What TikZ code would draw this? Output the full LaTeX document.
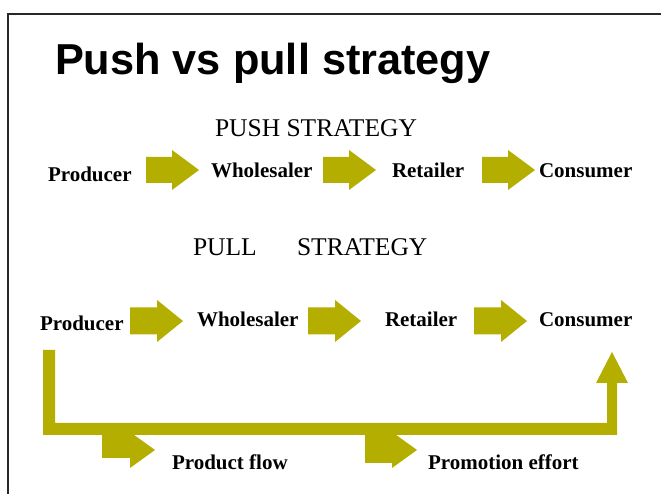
\documentclass[tikz,border=0pt]{standalone}
\usepackage{fontspec}
\setmainfont{Liberation Serif}
\newfontfamily\headfont{Liberation Sans}

\begin{document}
\begin{tikzpicture}[x=1pt,y=1pt,
  stage/.style={text=drawColor,anchor=base west,inner sep=0pt,outer sep=0pt,
    font=\bfseries\fontsize{21}{21}\selectfont},
  heading/.style={text=drawColor,anchor=base west,inner sep=0pt,outer sep=0pt,
    font=\fontsize{25.5}{25.5}\selectfont}]
\definecolor{fillColor}{RGB}{255,255,255}
\definecolor{drawColor}{RGB}{0,0,0}
\definecolor{frameColor}{RGB}{40,40,40}
\definecolor{arrowColor}{RGB}{179,174,0}
\path[use as bounding box,fill=fillColor] (0,0) rectangle (661,494);

% slide frame, left and top edge
\path[draw=frameColor,line width= 1.5pt] (  8.00,  0.00) --
	(  8.00,480.00) --
	(661.00,480.00);

\node[text=drawColor,anchor=base west,inner sep=0pt,outer sep=0pt,
  font=\headfont\bfseries\fontsize{43.3}{43.3}\selectfont] (title) at ( 55.00,419.00) {Push vs pull strategy};

% push strategy
\node[heading] (pushHead) at (215.00,357.00) {PUSH STRATEGY};

\node[stage] (pushProd) at ( 48.00,312.00) {Producer};
\node[stage] (pushWhole) at (211.00,316.00) {Wholesaler};
\node[stage] (pushRet) at (392.00,316.00) {Retailer};
\node[stage] (pushCons) at (539.00,316.00) {Consumer};

\foreach \x in {146,323,482}
  \path[fill=arrowColor] (\x,311) -- (\x+26,311) -- (\x+26,304) --
	(\x+53,324) -- (\x+26,344) -- (\x+26,337) -- (\x,337) -- cycle;

% pull strategy
\node[heading] (pullHead) at (193.00,238.00) {PULL};
\node[heading] (pullHeadB) at (297.00,238.00) {STRATEGY};

\node[stage] (pullProd) at ( 40.00,163.00) {Producer};
\node[stage] (pullWhole) at (197.00,167.00) {Wholesaler};
\node[stage] (pullRet) at (385.00,167.00) {Retailer};
\node[stage] (pullCons) at (539.00,167.00) {Consumer};

\foreach \x in {130,308,474}
  \path[fill=arrowColor] (\x,159.5) -- (\x+27,159.5) -- (\x+27,152) --
	(\x+53,173) -- (\x+27,194) -- (\x+27,186.5) -- (\x,186.5) -- cycle;

% bracket from producer round to consumer
\path[fill=arrowColor] ( 43.00,144.00) -- ( 55.00,144.00) -- ( 55.00, 71.00) --
	(607.00, 71.00) -- (607.00,111.00) -- (596.00,111.00) --
	(612.00,142.00) -- (628.00,111.00) -- (617.00,111.00) --
	(617.00, 59.00) -- ( 43.00, 59.00) -- cycle;

\path[fill=arrowColor] (102.00, 62.00) -- (102.00, 36.00) -- (130.00, 36.00) --
	(130.00, 26.00) -- (155.00, 44.00) -- (130.00, 62.00) -- cycle;

\path[fill=arrowColor] (365.00, 62.00) -- (365.00, 31.00) -- (392.00, 31.00) --
	(392.00, 26.00) -- (417.00, 44.00) -- (392.00, 62.00) -- cycle;

\node[stage] (flowLab) at (172.00, 24.00) {Product flow};
\node[stage] (promoLab) at (428.00, 24.00) {Promotion effort};
\end{tikzpicture}
\end{document}
